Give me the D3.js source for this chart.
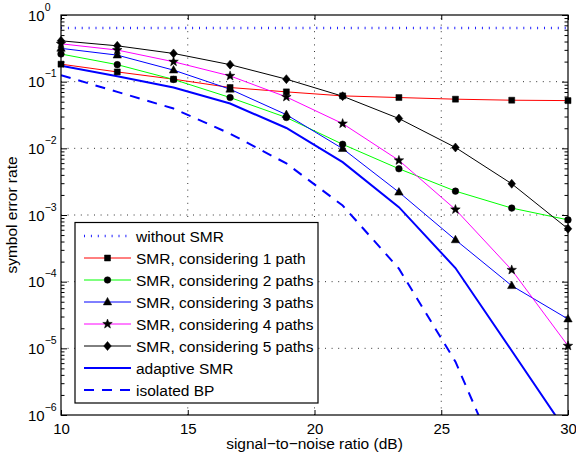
<!DOCTYPE html>
<html>
<head>
<meta charset="utf-8">
<script src="https://cdn.jsdelivr.net/npm/d3@7"></script>
<style>
  html, body { margin: 0; padding: 0; background: #fff; }
  svg { display: block; }
  text { font-family: "Liberation Sans", Arial, Helvetica, sans-serif; fill: #000; }
</style>
</head>
<body>
<div id="chart"></div>
<script>
// ---------------- data ----------------
const snr = [10, 12.22, 14.44, 16.67, 18.89, 21.11, 23.33, 25.56, 27.78, 30];
const withoutSMR = [0.64, 0.64, 0.64, 0.64, 0.64, 0.64, 0.64, 0.64, 0.64, 0.64];
const smr1 = [0.183, 0.14, 0.109, 0.0817, 0.0703, 0.0612, 0.0578, 0.0546, 0.0527, 0.052];
const smr2 = [0.26, 0.18, 0.108, 0.0578, 0.029, 0.0115, 0.00494, 0.00228, 0.00127, 0.000845];
const smr3 = [0.316, 0.25, 0.149, 0.077, 0.032, 0.0099, 0.0022, 0.000424, 0.000087, 0.0000275];
const smr4 = [0.37, 0.298, 0.199, 0.122, 0.059, 0.0235, 0.0066, 0.00121, 0.00015, 0.0000109];
const smr5 = [0.41, 0.345, 0.265, 0.18, 0.109, 0.0605, 0.028, 0.0103, 0.00294, 0.00062];
const adaptiveSMR = [0.173, 0.121, 0.0817, 0.047, 0.0202, 0.0062, 0.00131, 0.00016, 0.0000092, 0.00000052];
const isolatedBP = [0.125, 0.0703, 0.0395, 0.0166, 0.00594, 0.00139, 0.000157, 0.0000063, 0.00000007, 0.000000001];

const seriesNames = ["without SMR", "SMR, considering 1 path", "SMR, considering 2 paths",
  "SMR, considering 3 paths", "SMR, considering 4 paths", "SMR, considering 5 paths",
  "adaptive SMR", "isolated BP"];
const xTicks = [10, 15, 20, 25, 30];
const yExponents = [0, -1, -2, -3, -4, -5, -6];
const xLabel = "signal\u2212to\u2212noise ratio (dB)";
const yLabel = "symbol error rate";

// ---------------- layout ----------------
const W = 576, H = 457;
const L = 61, R = 568, T = 15, B = 415;

const x = d3.scaleLinear().domain([10, 30]).range([L, R]);
const y = d3.scaleLog().domain([1e-6, 1]).range([B, T]);

const svg = d3.select("#chart").append("svg").attr("width", W).attr("height", H);
svg.append("rect").attr("width", W).attr("height", H).attr("fill", "#fff");

svg.append("clipPath").attr("id", "plotclip")
  .append("rect").attr("x", L).attr("y", T).attr("width", R - L).attr("height", B - T);

// grid
const grid = svg.append("g");
const gridStyle = s => s.attr("stroke", "#333").attr("stroke-width", 1).attr("stroke-dasharray", "1,5.6");
xTicks.slice(1, -1).forEach(v => {
  grid.append("line").attr("x1", x(v)).attr("x2", x(v)).attr("y1", B).attr("y2", T).call(gridStyle);
});
yExponents.slice(1, -1).forEach(e => {
  grid.append("line").attr("x1", L).attr("x2", R).attr("y1", y(Math.pow(10, e))).attr("y2", y(Math.pow(10, e))).call(gridStyle);
});

// axes (ticks inward)
const majorY = yExponents.map(e => Math.pow(10, e));
const minorY = [];
for (let e = -6; e < 0; e++) for (let k = 2; k <= 9; k++) minorY.push(k * Math.pow(10, e));

function styleAxis(g) {
  g.select(".domain").remove();
  g.selectAll(".tick line").attr("stroke", "#000").attr("stroke-width", 1);
}
svg.append("g").attr("transform", `translate(${L},0)`)
  .call(d3.axisLeft(y).tickValues(majorY).tickSize(-6).tickSizeOuter(0).tickFormat(""))
  .call(styleAxis);
svg.append("g").attr("transform", `translate(${L},0)`)
  .call(d3.axisLeft(y).tickValues(minorY).tickSize(-3.5).tickSizeOuter(0).tickFormat(""))
  .call(styleAxis);
svg.append("g").attr("transform", `translate(${R},0)`)
  .call(d3.axisRight(y).tickValues(majorY).tickSize(-6).tickSizeOuter(0).tickFormat(""))
  .call(styleAxis);
svg.append("g").attr("transform", `translate(${R},0)`)
  .call(d3.axisRight(y).tickValues(minorY).tickSize(-3.5).tickSizeOuter(0).tickFormat(""))
  .call(styleAxis);
const xAxisG = svg.append("g").attr("transform", `translate(0,${B})`)
  .call(d3.axisBottom(x).tickValues(xTicks).tickSize(-5).tickSizeOuter(0).tickPadding(8).tickFormat(d3.format("d")))
  .call(styleAxis);
xAxisG.selectAll(".tick text").attr("font-size", 15).attr("font-family", "Liberation Sans, Arial, sans-serif").attr("fill", "#000");
svg.append("g").attr("transform", `translate(0,${T})`)
  .call(d3.axisTop(x).tickValues(xTicks).tickSize(-5).tickSizeOuter(0).tickFormat(""))
  .call(styleAxis);

// y tick labels with superscripts
yExponents.forEach(e => {
  const t = svg.append("text").attr("x", 28).attr("y", y(Math.pow(10, e)) + 5.5).attr("font-size", 15);
  t.append("tspan").text("10");
  t.append("tspan").attr("font-size", 10.5).attr("dy", -10).text(e === 0 ? "0" : "\u2212" + Math.abs(e));
});

// axis titles
svg.append("text").attr("x", (L + R) / 2).attr("y", 449).attr("text-anchor", "middle")
  .attr("font-size", 15.5).text(xLabel);
svg.append("text").attr("transform", `translate(17,${(T + B) / 2}) rotate(-90)`)
  .attr("text-anchor", "middle").attr("font-size", 15.5).text(yLabel);

// ---------------- markers ----------------
function starPath(R0) {
  const r0 = R0 * 0.42; let p = "";
  for (let i = 0; i < 10; i++) {
    const a = -Math.PI / 2 + i * Math.PI / 5;
    const rr = i % 2 === 0 ? R0 : r0;
    p += (i === 0 ? "M" : "L") + (rr * Math.cos(a)).toFixed(2) + "," + (rr * Math.sin(a)).toFixed(2);
  }
  return p + "Z";
}
const markerPaths = {
  square: "M-3,-3L3,-3L3,3L-3,3Z",
  circle: "M3.3,0A3.3,3.3 0 1,1 -3.3,0A3.3,3.3 0 1,1 3.3,0Z",
  triangle: "M0,-4.6L4.2,2.9L-4.2,2.9Z",
  star: starPath(5),
  diamond: "M0,-4.5L3.8,0L0,4.5L-3.8,0Z"
};

const series = [
  { name: seriesNames[0], values: withoutSMR, color: "#2020ff", width: 2.5, dash: "1,5.9", marker: null },
  { name: seriesNames[1], values: smr1, color: "#ff0000", width: 1, dash: null, marker: "square" },
  { name: seriesNames[2], values: smr2, color: "#00ff00", width: 1, dash: null, marker: "circle" },
  { name: seriesNames[3], values: smr3, color: "#0000ff", width: 1, dash: null, marker: "triangle" },
  { name: seriesNames[4], values: smr4, color: "#ff00ff", width: 1, dash: null, marker: "star" },
  { name: seriesNames[5], values: smr5, color: "#000000", width: 1, dash: null, marker: "diamond" },
  { name: seriesNames[6], values: adaptiveSMR, color: "#0000ff", width: 2, dash: null, marker: null },
  { name: seriesNames[7], values: isolatedBP, color: "#0000ff", width: 2, dash: "10,8", marker: null }
];

const line = d3.line().x(d => x(d[0])).y(d => y(d[1]));
const plot = svg.append("g").attr("clip-path", "url(#plotclip)");
series.forEach(s => {
  const pts = snr.map((v, i) => [v, s.values[i]]);
  plot.append("path").attr("d", line(pts)).attr("fill", "none")
    .attr("stroke", s.color).attr("stroke-width", s.width)
    .attr("stroke-dasharray", s.dash);
  if (s.marker) {
    svg.append("g").selectAll("path").data(pts).join("path")
      .attr("transform", d => `translate(${x(d[0])},${y(d[1])})`)
      .attr("d", markerPaths[s.marker]).attr("fill", "#000").attr("stroke", "#000").attr("stroke-width", 0.5);
  }
});

// box
svg.append("rect").attr("x", L).attr("y", T).attr("width", R - L).attr("height", B - T)
  .attr("fill", "none").attr("stroke", "#000").attr("stroke-width", 1.2);

// ---------------- legend ----------------
const lg = svg.append("g");
lg.append("rect").attr("x", 75).attr("y", 222.5).attr("width", 243).attr("height", 180.5)
  .attr("fill", "#fff").attr("stroke", "#000").attr("stroke-width", 1.2);
series.forEach((s, i) => {
  const cy = 236 + i * 22;
  lg.append("line").attr("x1", 84).attr("x2", 131).attr("y1", cy).attr("y2", cy)
    .attr("stroke", s.color).attr("stroke-width", s.width).attr("stroke-dasharray", s.dash);
  if (s.marker) {
    lg.append("path").attr("transform", `translate(107.5,${cy})`).attr("d", markerPaths[s.marker])
      .attr("fill", "#000").attr("stroke", "#000").attr("stroke-width", 0.5);
  }
  lg.append("text").attr("x", 136).attr("y", cy + 5.6).attr("font-size", 15.5).text(s.name);
});
</script>
</body>
</html>
